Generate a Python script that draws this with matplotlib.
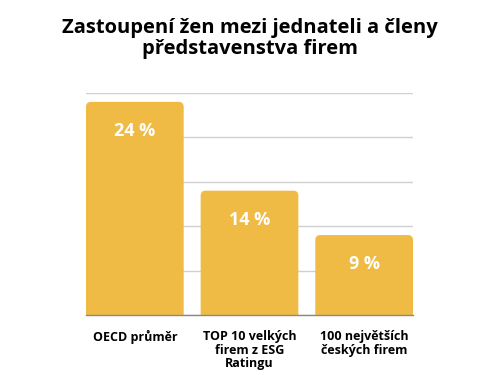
import matplotlib
matplotlib.use("Agg")
import matplotlib.pyplot as plt
from matplotlib.patches import FancyBboxPatch

categories = ["OECD průměr", "TOP 10 velkých\nfirem z ESG\nRatingu", "100 největších\nčeských firem"]
values = [24, 14, 9]
labels = ["24 %", "14 %", "9 %"]
title = "Zastoupení žen mezi jednateli a členy\npředstavenstva firem"

plt.rcParams['font.family'] = ['Open Sans', 'DejaVu Sans']
color = "#F0BB45"

fig = plt.figure(figsize=(5, 3.75), dpi=100)
ax = fig.add_axes([0.172, 0.16, 0.654, 0.592])
width = 0.852
x = list(range(len(values)))
bars = ax.bar(x, values, width=width, color=color, zorder=2)
ax.set_xlim(-width / 2, len(values) - 1 + width / 2)
ax.set_ylim(0, 25)

# rounded tops
fig.canvas.draw()
px_per_x = ax.transData.transform((1, 0))[0] - ax.transData.transform((0, 0))[0]
px_per_y = ax.transData.transform((0, 1))[1] - ax.transData.transform((0, 0))[1]
r_px = 5
for b in bars:
    b.set_visible(False)
    xx, w, h = b.get_x(), b.get_width(), b.get_height()
    rx = r_px / px_per_x
    p = FancyBboxPatch((xx, -2), w, h + 2,
                       boxstyle=f"round,pad=0,rounding_size={rx}",
                       mutation_aspect=px_per_x / px_per_y,
                       facecolor=color, edgecolor="none", zorder=2)
    ax.add_patch(p)

for xi, v, lab in zip(x, values, labels):
    ax.annotate(lab, (xi, v), xytext=(0, -21), textcoords="offset points",
                ha="center", va="center", color="white", fontsize=13, fontweight="bold")

ax.set_yticks([0, 5, 10, 15, 20, 25])
ax.yaxis.grid(True, color="#d0d0d0", linewidth=1, zorder=0)
ax.set_axisbelow(True)
ax.tick_params(axis="y", left=False, labelleft=False)
ax.set_xticks(x)
ax.set_xticklabels(categories, fontsize=9, fontweight="bold", linespacing=1.05)
ax.tick_params(axis="x", length=0, pad=11)
for s in ["top", "right", "left"]:
    ax.spines[s].set_visible(False)
ax.spines["bottom"].set_color("#888888")
ax.spines["bottom"].set_linewidth(1)
ax.spines["bottom"].set_zorder(3)

fig.text(0.5, 0.897, title, ha="center", va="center", fontsize=14.5, fontweight="bold",
         linespacing=1.1)
fig.savefig("out.png", dpi=100)
